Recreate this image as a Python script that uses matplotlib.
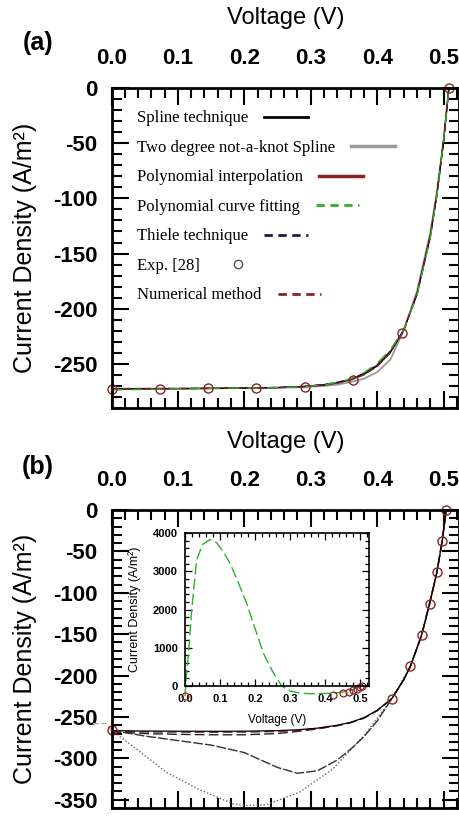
import matplotlib.pyplot as plt
from matplotlib.lines import Line2D
from matplotlib.ticker import MultipleLocator, FormatStrFormatter

plt.rcParams['font.family'] = 'Liberation Sans'
plt.rcParams['font.weight'] = 'bold'
plt.rcParams['axes.unicode_minus'] = False

# (a) Kurven
V_a = [0.0, 0.05, 0.10, 0.15, 0.20, 0.25, 0.29, 0.32, 0.34, 0.36, 0.38, 0.40, 0.42, 0.44, 0.46, 0.48, 0.49, 0.50, 0.508]
J_spline_a = [-272.6, -272.5, -272.4, -272.2, -271.9, -271.5, -270.6, -269.1, -267.3, -264.4, -259.7, -252.0, -239.7, -219.5, -186.8, -134.0, -96.0, -48.0, 0.0]
J_twodeg_a = [-272.6, -272.5, -272.4, -272.2, -271.9, -271.6, -271.0, -270.0, -268.8, -266.5, -263.5, -257.5, -246.0, -219.5, -184.0, -131.0, -94.0, -47.0, 0.0]
J_polyint_a = [-272.8, -272.6, -272.4, -272.2, -271.9, -271.4, -270.4, -268.8, -267.0, -264.0, -259.0, -251.0, -238.5, -219.0, -187.0, -135.0, -97.0, -49.0, 0.0]
J_polyfit_a = [-273.5, -273.2, -272.6, -272.0, -271.8, -271.6, -270.8, -269.0, -266.8, -263.5, -258.0, -249.5, -237.0, -219.0, -188.0, -136.0, -97.0, -48.0, 0.0]
J_thiele_a = [-272.4, -272.3, -272.2, -272.0, -271.8, -271.3, -270.3, -268.6, -266.6, -263.6, -258.6, -250.8, -238.5, -219.5, -187.5, -135.0, -97.0, -48.5, 0.0]
J_numeric_a = [-272.7, -272.6, -272.5, -272.3, -272.0, -271.6, -270.7, -269.3, -267.6, -264.8, -260.0, -252.5, -240.0, -220.0, -186.0, -133.0, -95.0, -47.5, 0.0]
V_exp_a = [0.0, 0.073, 0.145, 0.218, 0.292, 0.364, 0.438, 0.508]
J_exp_a = [-273, -273, -272, -272, -271, -265, -222, 0]

# (b) Kurven
V_b = [0.0, 0.05, 0.10, 0.15, 0.20, 0.25, 0.28, 0.31, 0.34, 0.36, 0.38, 0.40, 0.422, 0.44, 0.45, 0.467, 0.479, 0.49, 0.498, 0.504]
J_spline_b = [-266.5, -267, -267.2, -267.3, -267.2, -266.5, -265.5, -263.5, -260, -256.5, -251, -242, -228, -205, -189, -151, -113, -75, -37, 0]
J_thiele_b = [-268, -270, -271, -271.5, -271.5, -270, -267.5, -264.5, -260.5, -257, -251.5, -242.5, -228, -205, -189, -151, -113, -75, -37, 0]
J_numeric_b = [-267.5, -268, -268.3, -268.5, -268.3, -267.5, -266.5, -264, -260.5, -256.8, -251.2, -242.2, -228, -205, -189, -151, -113, -75, -37, 0]
J_twodeg_b = [-266, -273, -278.5, -284, -293, -311, -318, -315, -302, -289, -274, -255, -228, -205, -189, -151, -113, -75, -37, 0]
V_dot_b = [0.0, 0.033, 0.083, 0.133, 0.183, 0.20, 0.233, 0.283, 0.333, 0.383, 0.422, 0.45, 0.467, 0.479, 0.49, 0.498, 0.504]
J_dot_b = [-266, -286, -317, -338, -355, -357, -356, -341, -313, -270, -228, -189, -151, -113, -75, -37, 0]
V_stub_b = [-0.028, -0.008, 0.0]
J_stub_b = [-258, -258, -266]
V_exp_b = [0.0, 0.422, 0.450, 0.467, 0.479, 0.490, 0.498, 0.504]
J_exp_b = [-266, -228, -189, -151, -113, -75, -37, 0]

# Inset: Polynomial curve fitting
V_in = [0.0, 0.004, 0.010, 0.019, 0.033, 0.05, 0.071, 0.09, 0.11, 0.129, 0.15, 0.176, 0.20, 0.224, 0.25, 0.276, 0.30, 0.33, 0.357, 0.38, 0.414, 0.44, 0.46, 0.48, 0.50]
J_in = [-266, 300, 850, 1980, 3290, 3700, 3830, 3750, 3500, 3200, 2750, 2160, 1500, 850, 380, 0, -130, -190, -200, -200, -190, -170, -140, -90, 0]

labels = ['Spline technique', 'Two degree not-a-knot Spline', 'Polynomial interpolation',
          'Polynomial curve fitting', 'Thiele technique', 'Exp. [28]', 'Numerical method']

RED = '#8b2323'
GREEN = '#2bb02b'
NAVY = '#1c1c4a'

fig = plt.figure(figsize=(4.6, 8.21), dpi=100)
ax_a = fig.add_axes([0.2424, 0.503, 0.7565, 0.3898])
ax_b = fig.add_axes([0.2424, 0.0158, 0.7565, 0.363])
ax_in = fig.add_axes([0.4022, 0.1644, 0.4, 0.1864])


def style_main(ax, ymin, xlab_y):
    ax.set_xlim(0, 0.524)
    ax.set_ylim(ymin, 0)
    ax.xaxis.set_major_locator(MultipleLocator(0.1))
    ax.xaxis.set_minor_locator(MultipleLocator(0.02))
    ax.yaxis.set_major_locator(MultipleLocator(50))
    ax.yaxis.set_minor_locator(MultipleLocator(10))
    ax.xaxis.set_major_formatter(FormatStrFormatter('%.1f'))
    ax.tick_params(which='both', direction='in', top=True, right=True,
                   labeltop=True, labelbottom=False, width=1.5)
    ax.tick_params(which='major', length=12)
    ax.tick_params(which='minor', length=7)
    ax.tick_params(axis='x', labelsize=16, pad=14)
    ax.tick_params(axis='y', labelsize=16, pad=10)
    ax.xaxis.set_label_position('top')
    ax.set_xlabel('Voltage (V)', fontsize=17)
    ax.set_ylabel('Current Density (A/m²)', fontsize=18)
    ax.xaxis.set_label_coords(0.5, xlab_y)
    ax.xaxis.label.set_va('center')
    ax.yaxis.set_label_coords(-0.249, 0.5)
    ax.yaxis.label.set_va('center')
    for s in ax.spines.values():
        s.set_linewidth(2)


# -----------------------------
# (a)
# -----------------------------
style_main(ax_a, -290, 1.218)
ax_a.plot(V_a, J_twodeg_a, color='#999999', lw=1.3)
ax_a.plot(V_a, J_polyint_a, color=RED, lw=0.9)
ax_a.plot(V_a, J_spline_a, color='black', lw=0.9)
ax_a.plot(V_a, J_thiele_a, color=NAVY, lw=0.9, ls=(0, (6, 3)))
ax_a.plot(V_a, J_numeric_a, color=RED, lw=0.9, ls=(0, (6, 3)))
ax_a.plot(V_a, J_polyfit_a, color=GREEN, lw=1.0, ls=(0, (8, 6)))
ax_a.plot(V_exp_a, J_exp_a, ls='none', marker='o', mfc='none', mec=RED, ms=6.5, mew=1, clip_on=False)

handles = [
    Line2D([], [], color='black', lw=2),
    Line2D([], [], color='#999999', lw=2.5),
    Line2D([], [], color=RED, lw=2.5),
    Line2D([], [], color=GREEN, lw=2, ls=(0, (3, 2))),
    Line2D([], [], color=NAVY, lw=2, ls=(0, (3, 2))),
    Line2D([], [], ls='none', marker='o', mfc='none', mec='#555555', ms=6),
    Line2D([], [], color=RED, lw=2, ls=(0, (3, 2))),
]
leg = ax_a.legend(handles, labels, loc='upper left', bbox_to_anchor=(0.072, 0.93), frameon=False,
                  markerfirst=False, prop={'family': 'Liberation Serif', 'size': 12, 'weight': 'normal'},
                  labelspacing=0.81, handlelength=2.6, handletextpad=1.0, borderpad=0, borderaxespad=0)
# Text linksbündig, Linien direkt dahinter
for col in leg._legend_handle_box.get_children():
    col.align = 'left'

# -----------------------------
# (b)
# -----------------------------
style_main(ax_b, -360, 1.228)
ax_b.plot(V_stub_b, J_stub_b, color='#aaaaaa', lw=1, ls=(0, (4, 2)), clip_on=False)
ax_b.plot(V_dot_b, J_dot_b, color='#666666', lw=1, ls=(0, (1, 1.5)))
ax_b.plot(V_b, J_twodeg_b, color='#333333', lw=1, ls=(0, (7, 1.5)))
ax_b.plot(V_b, J_thiele_b, color='#222222', lw=1, ls=(0, (7, 3)))
ax_b.plot(V_b, J_numeric_b, color=RED, lw=1, ls=(0, (7, 3)))
ax_b.plot(V_b, J_spline_b, color='black', lw=0.9)
ax_b.plot(V_exp_b, J_exp_b, ls='none', marker='o', mfc='none', mec=RED, ms=6.5, mew=1, clip_on=False)

# Inset
ax_in.set_xlim(0, 0.525)
ax_in.set_ylim(0, 4000)
ax_in.xaxis.set_major_locator(MultipleLocator(0.1))
ax_in.xaxis.set_minor_locator(MultipleLocator(0.02))
ax_in.yaxis.set_major_locator(MultipleLocator(1000))
ax_in.yaxis.set_minor_locator(MultipleLocator(200))
ax_in.xaxis.set_major_formatter(FormatStrFormatter('%.1f'))
ax_in.tick_params(which='both', direction='in', top=True, right=True, width=0.9)
ax_in.tick_params(which='major', length=5)
ax_in.tick_params(which='minor', length=3)
ax_in.tick_params(axis='x', labelsize=8, pad=6)
ax_in.tick_params(axis='y', labelsize=8, pad=5)
ax_in.set_xlabel('Voltage (V)', fontsize=8.5)
ax_in.set_ylabel('Current Density (A/m²)', fontsize=9)
ax_in.xaxis.set_label_coords(0.5, -0.222)
ax_in.xaxis.label.set_va('center')
ax_in.yaxis.set_label_coords(-0.272, 0.5)
ax_in.yaxis.label.set_va('center')
for s in ax_in.spines.values():
    s.set_linewidth(1.2)
ax_in.plot(V_in, J_in, color=GREEN, lw=1, ls=(0, (8, 3)), clip_on=False)
ax_in.plot(V_exp_b, J_exp_b, ls='none', marker='o', mfc='none', mec=RED, ms=5, mew=0.9, clip_on=False)

fig.text(38 / 460, 1 - 43 / 821, '(a)', fontsize=18, ha='center', va='center')
fig.text(38 / 460, 1 - 467 / 821, '(b)', fontsize=18, ha='center', va='center')

plt.savefig('out.png', dpi=100)
